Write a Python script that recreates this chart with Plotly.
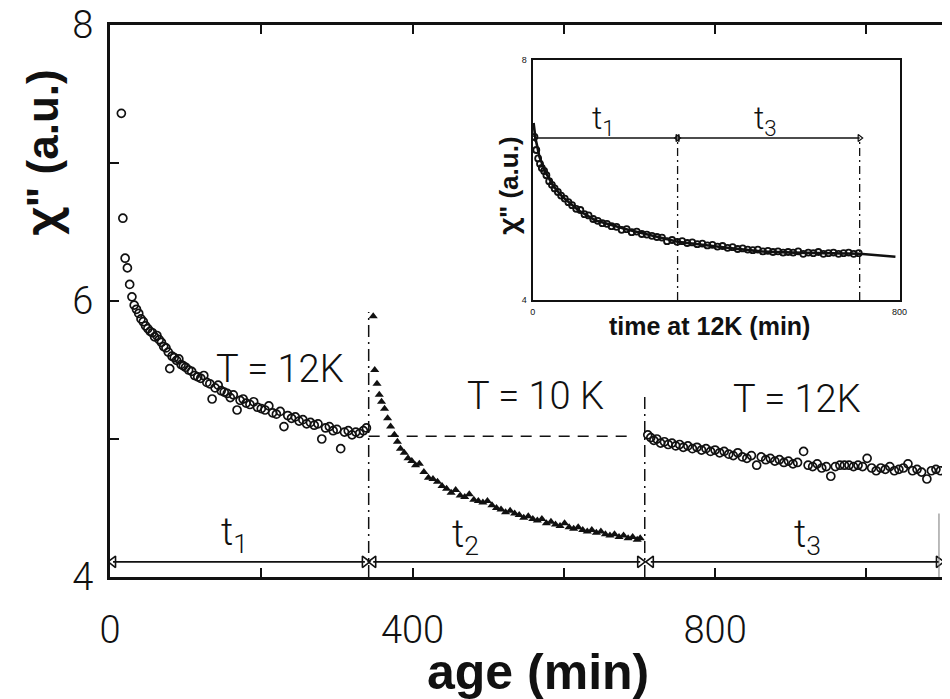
import plotly.graph_objects as go

# ---- main panel data: chi'' vs age (min) ----
# first stage at T = 12K (open circles)
s1_x = [15, 17, 20, 23, 26, 29, 32, 35, 38, 41, 44, 47, 50, 53, 56, 59, 62, 65, 68, 71,
        74, 77, 79, 82, 85, 88, 91, 94, 97, 100, 104, 108, 112, 116, 120, 124, 128, 132,
        135, 139, 143, 147, 151, 155, 159, 163, 168, 172, 176, 180, 185, 190, 195, 200,
        205, 210, 215, 220, 225, 230, 235, 240, 245, 250, 255, 260, 265, 270, 275, 280,
        285, 290, 295, 300, 305, 310, 315, 320, 325, 330, 335, 339]
s1_y = [7.36, 6.60, 6.31, 6.24, 6.12, 6.03, 5.97, 5.94, 5.91, 5.87, 5.85, 5.82, 5.80, 5.78,
        5.77, 5.74, 5.75, 5.72, 5.70, 5.67, 5.66, 5.63, 5.51, 5.60, 5.59, 5.57, 5.58, 5.54,
        5.53, 5.52, 5.50, 5.49, 5.46, 5.45, 5.44, 5.46, 5.41, 5.40, 5.29, 5.37, 5.39, 5.35,
        5.34, 5.33, 5.30, 5.32, 5.21, 5.28, 5.29, 5.26, 5.25, 5.27, 5.23, 5.22, 5.21, 5.24,
        5.19, 5.18, 5.20, 5.09, 5.17, 5.15, 5.16, 5.13, 5.14, 5.11, 5.12, 5.10, 5.11, 5.00,
        5.08, 5.09, 5.06, 5.07, 4.93, 5.05, 5.06, 5.03, 5.05, 5.04, 5.06, 5.08]

# second stage at T = 10K (filled triangles)
s2_x = [348, 350, 353, 356, 359, 363, 367, 371, 376, 380, 384, 389, 394, 399, 404, 409, 415,
        421, 427, 433, 439, 445, 451, 457, 463, 469, 475, 481, 487, 493, 499, 505, 511, 517,
        523, 529, 535, 541, 547, 553, 559, 565, 571, 577, 583, 589, 595, 601, 607, 613, 619,
        625, 631, 637, 643, 649, 655, 661, 667, 673, 679, 685, 691, 697, 701]
s2_y = [5.89, 5.50, 5.40, 5.32, 5.27, 5.22, 5.15, 5.09, 5.03, 4.98, 4.93, 4.90, 4.86, 4.84,
        4.81, 4.82, 4.76, 4.72, 4.71, 4.69, 4.66, 4.64, 4.61, 4.63, 4.59, 4.58, 4.60, 4.56,
        4.55, 4.54, 4.55, 4.52, 4.50, 4.49, 4.47, 4.48, 4.46, 4.45, 4.43, 4.44, 4.42, 4.41,
        4.42, 4.39, 4.40, 4.38, 4.37, 4.39, 4.36, 4.35, 4.36, 4.34, 4.33, 4.34, 4.32, 4.33,
        4.31, 4.30, 4.31, 4.29, 4.30, 4.28, 4.29, 4.27, 4.28]

# third stage, back at T = 12K (open circles)
s3_x = [711, 715, 719, 723, 728, 733, 738, 743, 748, 753, 758, 764, 770, 776, 782, 788, 794,
        800, 806, 812, 818, 824, 830, 836, 842, 848, 855, 861, 867, 873, 879, 885, 891, 897,
        903, 909, 917, 923, 929, 935, 941, 947, 953, 959, 965, 971, 977, 983, 989, 995, 1001,
        1007, 1013, 1019, 1025, 1031, 1037, 1043, 1049, 1055, 1061, 1067, 1073, 1080, 1086,
        1092, 1098]
s3_y = [5.03, 5.01, 4.99, 5.00, 4.97, 4.98, 4.96, 4.97, 4.95, 4.96, 4.94, 4.95, 4.93, 4.94,
        4.92, 4.93, 4.91, 4.92, 4.90, 4.91, 4.89, 4.88, 4.90, 4.87, 4.86, 4.88, 4.81, 4.87,
        4.85, 4.86, 4.84, 4.85, 4.83, 4.84, 4.82, 4.83, 4.91, 4.81, 4.80, 4.82, 4.79, 4.80,
        4.73, 4.80, 4.81, 4.81, 4.81, 4.80, 4.81, 4.80, 4.86, 4.79, 4.77, 4.79, 4.78, 4.80,
        4.77, 4.78, 4.79, 4.82, 4.77, 4.78, 4.76, 4.71, 4.77, 4.78, 4.77]

# stage boundaries and reference level
t1_end = 342
t2_end = 707
t1_top = 5.92
t2_top = 5.31
ref_level = 5.02
span_y = 4.11
t1_span = [4, 337]
t2_span = [348, 701]
t3_span = [715, 1096]

# ---- inset data: chi'' vs time spent at 12K ----
in_x = [4, 8, 12, 16, 20, 25, 30, 36, 42, 48, 55, 62, 70, 78, 86, 95, 104, 113, 122, 132,
        142, 152, 162, 172, 183, 194, 205, 216, 227, 238, 249, 260, 271, 282, 293, 304, 315,
        326, 337, 348, 359, 370, 381, 392, 403, 414, 425, 436, 447, 458, 469, 480, 491, 502,
        513, 524, 535, 546, 557, 568, 579, 590, 601, 612, 623, 634, 645, 656, 667, 678, 689,
        700, 711]
in_y = [6.72, 6.50, 6.36, 6.27, 6.20, 6.15, 6.08, 5.98, 5.92, 5.86, 5.80, 5.74, 5.69, 5.63,
        5.58, 5.52, 5.50, 5.43, 5.41, 5.35, 5.32, 5.28, 5.27, 5.23, 5.22, 5.17, 5.18, 5.13,
        5.14, 5.10, 5.09, 5.07, 5.05, 5.04, 4.98, 5.00, 4.97, 4.98, 4.95, 4.96, 4.93, 4.94,
        4.91, 4.92, 4.89, 4.90, 4.87, 4.88, 4.85, 4.86, 4.84, 4.83, 4.84, 4.81, 4.82, 4.80,
        4.81, 4.79, 4.80, 4.79, 4.81, 4.77, 4.79, 4.78, 4.80, 4.77, 4.78, 4.79, 4.77, 4.78,
        4.79, 4.77, 4.78]
fit_x = [2, 6, 15, 28, 45, 65, 99, 136, 208, 281, 316, 424, 497, 570, 640, 713, 791]
fit_y = [6.95, 6.70, 6.38, 6.13, 5.90, 5.72, 5.50, 5.33, 5.17, 5.03, 4.97, 4.87, 4.81,
         4.79, 4.78, 4.77, 4.72]
in_t1_end = 316
in_t3_end = 713
in_span_y = 6.70

# tick labels
main_xticks = [0, 400, 800]
main_yticks = [4, 6, 8]
inset_xticks = [0, 800]
inset_yticks = [4, 8]

LIGHT = "Roboto"
BOLD = "Liberation Sans"
INK = "#111111"
CHI = '<span style="font-family:Noto Sans">\u03c7</span>'

fig = go.Figure()

open_marker = dict(symbol="circle-open", size=8, color=INK, line=dict(width=1.7, color=INK))
fig.add_trace(go.Scatter(x=s1_x, y=s1_y, mode="markers", marker=open_marker,
                         xaxis="x", yaxis="y", showlegend=False))
fig.add_trace(go.Scatter(x=s2_x, y=s2_y, mode="markers",
                         marker=dict(symbol="triangle-up", size=8, color=INK),
                         xaxis="x", yaxis="y", showlegend=False))
fig.add_trace(go.Scatter(x=s3_x, y=s3_y, mode="markers", marker=open_marker,
                         xaxis="x", yaxis="y", showlegend=False))

# duration bars t1, t2, t3 with open arrow heads
for span in (t1_span, t2_span, t3_span):
    fig.add_trace(go.Scatter(
        x=span, y=[span_y, span_y], mode="lines+markers",
        line=dict(color=INK, width=1.8),
        marker=dict(symbol=["triangle-left-open", "triangle-right-open"], size=10,
                    color=INK, line=dict(width=1.6, color=INK)),
        xaxis="x", yaxis="y", showlegend=False))

# stage boundaries (dash-dot) and the level reached after t1 (dashed)
dashdot = "12px,5px,2px,5px"
fig.add_shape(type="line", xref="x", yref="y", x0=t1_end, x1=t1_end, y0=4.0, y1=t1_top,
              line=dict(color=INK, width=1.5, dash=dashdot))
fig.add_shape(type="line", xref="x", yref="y", x0=t2_end, x1=t2_end, y0=4.0, y1=t2_top,
              line=dict(color=INK, width=1.5, dash=dashdot))
fig.add_shape(type="line", xref="x", yref="y", x0=t1_end, x1=t2_end - 20,
              y0=ref_level, y1=ref_level,
              line=dict(color=INK, width=1.7, dash="11px,8px"))
fig.add_shape(type="line", xref="x", yref="y", x0=t3_span[1], x1=t3_span[1], y0=4.0, y1=4.46,
              line=dict(color="#777777", width=1))

# ---- inset ----
fig.add_trace(go.Scatter(x=fit_x, y=fit_y, mode="lines", line=dict(color=INK, width=2.6),
                         xaxis="x2", yaxis="y2", showlegend=False))
fig.add_trace(go.Scatter(x=in_x, y=in_y, mode="markers",
                         marker=dict(symbol="circle-open", size=6, color=INK,
                                     line=dict(width=1.8, color=INK)),
                         xaxis="x2", yaxis="y2", showlegend=False))
for span in ([3, in_t1_end], [in_t1_end, in_t3_end]):
    fig.add_trace(go.Scatter(
        x=span, y=[in_span_y, in_span_y], mode="lines+markers",
        line=dict(color=INK, width=1.4),
        marker=dict(symbol=["triangle-left-open", "triangle-right-open"], size=6,
                    color=INK, line=dict(width=1.2, color=INK)),
        xaxis="x2", yaxis="y2", showlegend=False))
for xv in (in_t1_end, in_t3_end):
    fig.add_shape(type="line", xref="x2", yref="y2", x0=xv, x1=xv, y0=4.0, y1=in_span_y,
                  line=dict(color=INK, width=1.3, dash="8px,4px,2px,4px"))

light_font = dict(family=LIGHT, size=38, color=INK, weight=300)
inset_t_font = dict(family=LIGHT, size=32, color=INK, weight=300)


def label(text, x, y, ref, font, angle=0):
    xr, yr = ref
    return dict(text=text, x=x, y=y, xref=xr, yref=yr, showarrow=False, font=font,
                xanchor="center", yanchor="middle", textangle=angle)


annots = [
    label("T = 12K", 225, 5.51, ("x", "y"), light_font),
    label("T = 10 K", 563, 5.31, ("x", "y"), light_font),
    label("T = 12K", 908, 5.29, ("x", "y"), light_font),
    label("t<sub>1</sub>", 165, 4.31, ("x", "y"), light_font),
    label("t<sub>2</sub>", 470, 4.29, ("x", "y"), light_font),
    label("t<sub>3</sub>", 922, 4.29, ("x", "y"), light_font),
    label("t<sub>1</sub>", 155, 7.0, ("x2", "y2"), inset_t_font),
    label("t<sub>3</sub>", 508, 7.0, ("x2", "y2"), inset_t_font),
    label("age (min)", 0.514, -0.172, ("paper", "paper"),
          dict(family=BOLD, size=50, color=INK, weight="bold")),
    label(CHI + '" (a.u.)', -0.083, 0.77, ("paper", "paper"),
          dict(family=BOLD, size=44, color=INK, weight="bold"), angle=-90),
    label("time at 12K (min)", 0.72, 0.4547, ("paper", "paper"),
          dict(family=BOLD, size=25, color=INK, weight="bold")),
    label(CHI + '" (a.u.)', 0.4786, 0.71, ("paper", "paper"),
          dict(family=BOLD, size=26, color=INK, weight="bold"), angle=-90),
]

fig.update_layout(
    width=950, height=699,
    margin=dict(l=110, r=0, t=25, b=122),
    paper_bgcolor="white", plot_bgcolor="white",
    annotations=annots,
    xaxis=dict(range=[0, 1100], domain=[0, 1], showgrid=False, zeroline=False,
               showline=True, linecolor=INK, linewidth=2.5, mirror="ticks",
               ticks="inside", ticklen=9, tickwidth=1.5, tickcolor=INK,
               tickvals=main_xticks, ticktext=[str(v) for v in main_xticks],
               minor=dict(dtick=200, tick0=0, ticks="inside", ticklen=9, tickwidth=1.5,
                          tickcolor=INK),
               tickfont=light_font, ticklabelstandoff=18),
    yaxis=dict(range=[4, 8], domain=[0, 1], showgrid=False, zeroline=False,
               showline=True, linecolor=INK, linewidth=3,
               ticks="inside", ticklen=9, tickwidth=1.5, tickcolor=INK,
               tickvals=main_yticks, ticktext=[str(v) for v in main_yticks],
               minor=dict(dtick=1, tick0=4, ticks="inside", ticklen=9, tickwidth=1.5,
                          tickcolor=INK),
               tickfont=light_font, ticklabelstandoff=6),
    xaxis2=dict(range=[0, 800], domain=[0.508, 0.949], anchor="y2", showgrid=False,
                zeroline=False, showline=True, linecolor=INK, linewidth=2, mirror=True,
                ticks="", tickvals=inset_xticks, ticktext=[str(v) for v in inset_xticks],
                tickfont=dict(family=BOLD, size=9, color=INK), ticklabelstandoff=2),
    yaxis2=dict(range=[4, 8], domain=[0.5018, 0.9366], anchor="x2", showgrid=False,
                zeroline=False, showline=True, linecolor=INK, linewidth=2, mirror=True,
                ticks="", tickvals=inset_yticks, ticktext=[str(v) for v in inset_yticks],
                tickfont=dict(family=BOLD, size=9, color=INK), ticklabelstandoff=2),
)

fig.write_html("out.html")
